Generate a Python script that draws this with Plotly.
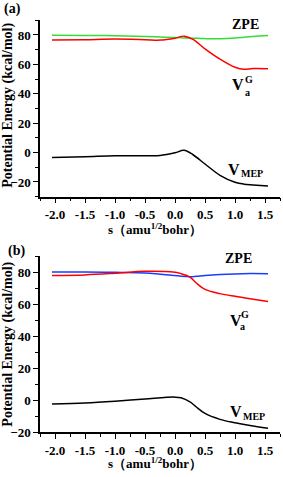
import plotly.graph_objects as go

# Panel (a)
s_a = [-2.05, -1.5, -1.0, -0.5, -0.25, 0.0, 0.15, 0.3, 0.5, 0.75, 1.0, 1.15, 1.3, 1.55]
zpe_a = [79.8, 79.7, 79.5, 79.0, 78.6, 78.2, 78.0, 77.8, 77.5, 77.4, 77.9, 78.5, 79.0, 79.6]
vag_a = [76.5, 76.8, 77.2, 76.8, 76.5, 77.8, 79.2, 77.0, 70.5, 63.5, 58.0, 56.6, 57.2, 57.0]
vmep_a = [-3.3, -2.8, -2.2, -2.1, -2.0, -0.2, 1.5, -1.5, -7.8, -15.5, -20.2, -21.5, -22.0, -22.7]

# Panel (b)
s_b = [-2.05, -1.5, -1.0, -0.5, 0.0, 0.1, 0.25, 0.35, 0.5, 0.75, 1.0, 1.25, 1.55]
zpe_b = [80.2, 80.2, 80.0, 79.6, 78.0, 77.6, 77.3, 77.5, 78.0, 78.6, 79.0, 79.2, 79.1]
vag_b = [78.0, 78.4, 79.4, 80.6, 80.0, 79.2, 77.0, 73.5, 69.3, 66.7, 65.0, 63.5, 61.8]
vmep_b = [-2.3, -1.7, -0.6, 0.8, 2.0, 1.6, -1.0, -4.0, -8.2, -11.9, -14.0, -15.8, -17.5]

xticks = [-2.0, -1.5, -1.0, -0.5, 0.0, 0.5, 1.0, 1.5]
yticks = [-20, 0, 20, 40, 60, 80]

W, H = 283, 477
FONT = "Liberation Serif"

fig = go.Figure()
lw = 1.5
fig.add_trace(go.Scatter(x=s_a, y=zpe_a, mode="lines", line=dict(color="#33dd33", width=lw, shape="spline"), xaxis="x", yaxis="y"))
fig.add_trace(go.Scatter(x=s_a, y=vag_a, mode="lines", line=dict(color="#ff0000", width=lw, shape="spline"), xaxis="x", yaxis="y"))
fig.add_trace(go.Scatter(x=s_a, y=vmep_a, mode="lines", line=dict(color="#000000", width=lw, shape="spline"), xaxis="x", yaxis="y"))
fig.add_trace(go.Scatter(x=s_b, y=zpe_b, mode="lines", line=dict(color="#1a3cff", width=lw, shape="spline"), xaxis="x2", yaxis="y2"))
fig.add_trace(go.Scatter(x=s_b, y=vag_b, mode="lines", line=dict(color="#ff0000", width=lw, shape="spline"), xaxis="x2", yaxis="y2"))
fig.add_trace(go.Scatter(x=s_b, y=vmep_b, mode="lines", line=dict(color="#000000", width=lw, shape="spline"), xaxis="x2", yaxis="y2"))

tickfont = dict(family=FONT, size=13, color="black", weight="bold")

def xax(anchor, rng):
    return dict(domain=[40 / W, 280 / W], anchor=anchor, range=rng,
                tickvals=xticks, ticktext=[f"{v:.1f}" for v in xticks],
                ticks="outside", ticklen=5, tickwidth=1.2, tickcolor="black",
                minor=dict(ticks="outside", ticklen=3, tickwidth=1, tickcolor="black", dtick=0.25),
                showline=True, linecolor="black", linewidth=1.5, showgrid=False, zeroline=False,
                tickfont=tickfont)

def yax(anchor, dom, rng):
    return dict(domain=dom, anchor=anchor, range=rng, tickvals=yticks,
                ticks="outside", ticklen=5, tickwidth=1.2, tickcolor="black",
                minor=dict(ticks="outside", ticklen=3, tickwidth=1, tickcolor="black", dtick=10),
                showline=True, linecolor="black", linewidth=1.5, showgrid=False, zeroline=False,
                tickfont=tickfont)

fig.update_layout(
    width=W, height=H, margin=dict(l=0, r=0, t=0, b=0),
    paper_bgcolor="white", plot_bgcolor="white", showlegend=False,
    font=dict(family=FONT, color="black"),
    xaxis=xax("y", [-2.25, 1.75]),
    yaxis=yax("x", [1 - 200 / H, 1 - 20.6 / H], [-30, 90]),
    xaxis2=xax("y2", [-2.25, 1.75]),
    yaxis2=yax("x2", [1 - 439.7 / H, 1 - 260.7 / H], [-20, 90]),
)

lab = dict(family=FONT, size=14, color="black", weight="bold")
big = dict(family=FONT, size=16, color="black", weight="bold")
small = dict(family=FONT, size=10, color="black", weight="bold")
ttl = dict(family=FONT, size=14, color="black", weight="bold")
xttl = dict(family=FONT, size=13, color="black", weight="bold")
ann = []
def add(text, x, y, xr, yr, f, xa="center", ang=0):
    ann.append(dict(text=text, x=x, y=y, xref=xr, yref=yr, showarrow=False, font=f,
                    xanchor=xa, yanchor="middle", textangle=ang))

# panel a
add("ZPE", 1.178, 86.9, "x", "y", lab)
add("V", 1.05, 46.2, "x", "y", big)
add("a", 1.2, 40.9, "x", "y", small)
add("G", 1.233, 49.6, "x", "y", small)
add("V", 0.983, -11.4, "x", "y", big)
add("MEP", 1.06, -14.5, "x", "y", small, "left")
# panel b
add("ZPE", 1.05, 88.5, "x2", "y2", lab)
add("V", 1.017, 49.8, "x2", "y2", big)
add("a", 1.133, 46.2, "x2", "y2", small)
add("G", 1.167, 53.5, "x2", "y2", small)
add("V", 1.01, -7.2, "x2", "y2", big)
add("MEP", 1.10, -10.3, "x2", "y2", small, "left")
# axis titles
xt = "s（amu<sup>1/2</sup>bohr）"
yt = "Potential Energy (kcal/mol)"
add(xt, 155 / W, 1 - 233 / H, "paper", "paper", xttl)
add(xt, 155 / W, 1 - 471 / H, "paper", "paper", xttl)
add(yt, 8.5 / W, 1 - 107 / H, "paper", "paper", ttl, "center", -90)
add(yt, 8.5 / W, 1 - 350 / H, "paper", "paper", ttl, "center", -90)
# panel letters
add("(a)", 2 / W, 1 - 9 / H, "paper", "paper", ttl, "left")
add("(b)", 6 / W, 1 - 255 / H, "paper", "paper", ttl, "left")
fig.update_layout(annotations=ann)

fig.write_html("out.html", config={"displayModeBar": False},
               post_script="document.body.style.margin='0';document.body.style.padding='0';")
